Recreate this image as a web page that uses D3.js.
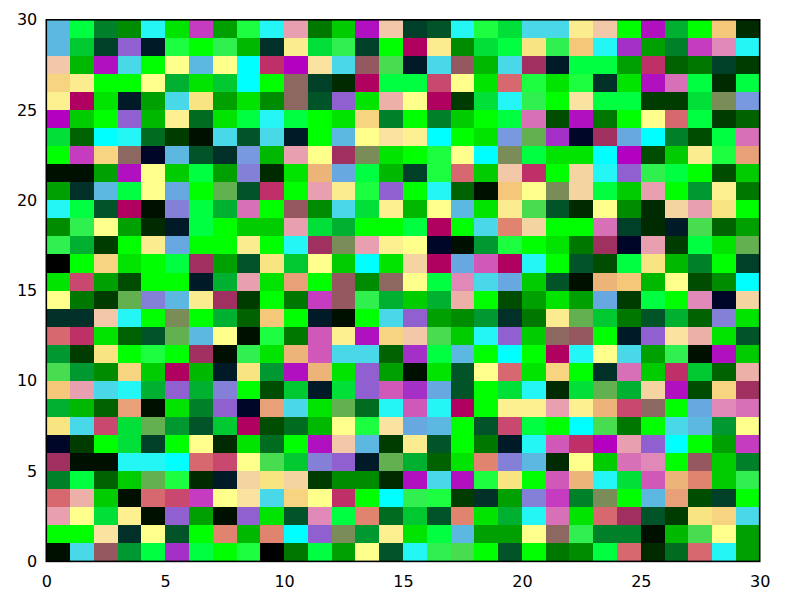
<!DOCTYPE html>
<html><head><meta charset="utf-8">
<script src="https://cdn.jsdelivr.net/npm/d3@7"></script>
<style>html,body{margin:0;padding:0;background:#fff}svg{display:block}</style>
</head><body><svg id="c" width="800" height="600"></svg>
<script>
// colour classes; each cell holds one class code
const classCodes = "abcdefghijklmnopqrstuvwxyzABCDEFGHIJKLMNOPQRSTUVWXYZ0123456789#$%!".split("");
const classColours = [
 "#000000","#001000","#002a00","#003c00","#004c00","#006200","#007800","#008c00","#00a000","#00b800","#00cc00","#00e400","#00ff00",
 "#00ff40","#1cff40","#30f050","#48dc50","#00e038","#00c830","#00b030","#009830","#008028","#006c20","#005428","#004028","#003028",
 "#001a28","#000628","#00ffff","#24f6f6","#48d8e8","#5cb8e0","#68a8e0","#7898e0","#8480d8","#9060d0","#a430c8","#b010c0","#b400c0","#c63cc0","#d058b8","#d870b8","#e088b8","#e8a0b0",
 "#c03068","#b00060","#a03060","#965860","#8c6860","#c84870","#d86870","#e08470","#e8a078","#ecb478","#f4c878","#f6d480","#f8e480","#fcec90","#ffff8c","#fcf090","#fae2a0","#f2c8a8",
 "#ecb0a8","#62b050","#7a8c58","#f4d4a0"];
// cell rows, top of the picture first
const rowsTopFirst = [
 "F n v h D l N i o D R g k L 9 y x D o r E E 5 9 m L t m 2 c",
 "F s y J A o m p j z 5 r p y m T 5 h r n 4 p 2 D K i v N Q D",
 "9 j L E m 6 F 6 C S M 8 E V q A E V j E U A n n i S f g y d",
 "3 5 m m 6 t l s C m W y c T n n X 6 l Y o l o z l L P n c n",
 "7 T l A i E 4 i l h W x J l # 6 T d r D p m 8 n n d d r % H",
 "M k m J j 7 w l n D n m l 3 v m v k m n P e L g m 6 Y n d f",
 "r f C D w d b E x E A m F 6 8 7 C m l H $ K B U G C v e n P",
 "m N 3 W B F x z H j R 6 U % l m o 6 C % n l l C M e k 5 o 0",
 "b b i L 6 k n i I c l 1 G n j y o Y k 9 S m ! D J p n m e k",
 "i z F n 6 G m $ x S m R 5 o J m D f b 2 6 % ! n k R m u 7 g",
 "D n x T b I n t P m V h E r 7 j 6 F l 5 q x c 6 h c ! R 4 m",
 "h p 6 i c A n m k k R r t m m n T m E Z ! m m P y c A q f i",
 "p t d m 5 G m m 5 m D U % R 7 6 B b u o m l g U B R d n l $",
 "a m 3 l m n U i x 4 s 6 k C l ! T G O T D m x e n 4 j v m y",
 "l X i e m m A t R l 0 m V h W 6 n Q E G k x b 1 2 j 6 e h C",
 "6 g d $ I F 5 U d m g N V p t k t # m e i l i G d n m Q B !",
 "z z 9 D m % m t f 2 m A b m E J i h u z g 5 $ s g x t f I l",
 "Y S l f x $ F 6 b o g O 7 L 3 9 q k D J k W V m A J 8 # l x",
 "u d 4 m o m U b p l 1 O E E f K n F m C m T D 6 E i p b L k",
 "q u h 3 k T j A 4 u L 1 l J i b l x 6 Y l 3 m z P k S s f #",
 "2 R E D t J t I m e s A r J O K G x m r D c r $ t ! L e 3 U",
 "t j f 0 b l v J B 0 E l $ w D O D T m 7 7 R 7 1 X W m G Q P",
 "4 E X r $ u x s T e w j 6 o 8 G F m x X n m C q g m E F u 6",
 "B d m r y m 6 c l w m L 9 F d 5 x m g A D O S M R J C m i N",
 "U b b D D C Y X 6 q s I J A $ t f l Z I F c 6 k P Q m V k v",
 "v n f k $ o c A ! 4 ! d h h c L E L o 4 m O 1 D r O 1 Z k p",
 "Y # k b Y X N 6 8 E 3 6 S m C p o d z i I N v % m F 0 e y m",
 "R 6 r 7 b J i b J l x Q n Z w s x Z l t D P l Y U x d 4 3 E",
 "m m 8 z 6 x m Z j Z C J % u 7 l n F i i 6 W p v v b j q 6 i",
 "b E V u n K n m o a g n i 6 x D p q m x m g h n Y c w Y D i"
];
const tickValues = [0,5,10,15,20,25,30];

const plotLeft=46.3,plotRight=759.7,plotTop=19.8,plotBottom=561.4;
const x=d3.scaleLinear().domain([0,30]).range([plotLeft,plotRight]);
const y=d3.scaleLinear().domain([0,30]).range([plotBottom,plotTop]);
const colour=d3.scaleOrdinal().domain(classCodes).range(classColours);
const svg=d3.select("#c");

const cells=rowsTopFirst.flatMap((r,i)=>r.split(" ").map((code,j)=>({col:j,row:29-i,code})));
svg.append("g").attr("shape-rendering","crispEdges").selectAll("rect").data(cells).join("rect")
 .attr("x",d=>x(d.col)).attr("y",d=>y(d.row+1))
 .attr("width",d=>x(d.col+1)-x(d.col)).attr("height",d=>y(d.row)-y(d.row+1))
 .attr("fill",d=>colour(d.code));

svg.append("rect").attr("x",plotLeft).attr("y",plotTop).attr("width",plotRight-plotLeft).attr("height",plotBottom-plotTop)
 .attr("fill","none").attr("stroke","#000").attr("stroke-width",1.6);

const font="'DejaVu Sans'";
const gx=svg.append("g").attr("transform",`translate(0,${plotBottom})`)
 .call(d3.axisBottom(x).tickValues(tickValues).tickSize(0).tickPadding(14).tickFormat(d3.format("d")));
const gy=svg.append("g").attr("transform",`translate(${plotLeft},0)`)
 .call(d3.axisLeft(y).tickValues(tickValues).tickSize(0).tickPadding(9).tickFormat(d3.format("d")));
[gx,gy].forEach(g=>{g.select(".domain").remove();g.selectAll("text").attr("font-family",font).attr("font-size",16).attr("fill","#000");});
</script></body></html>
